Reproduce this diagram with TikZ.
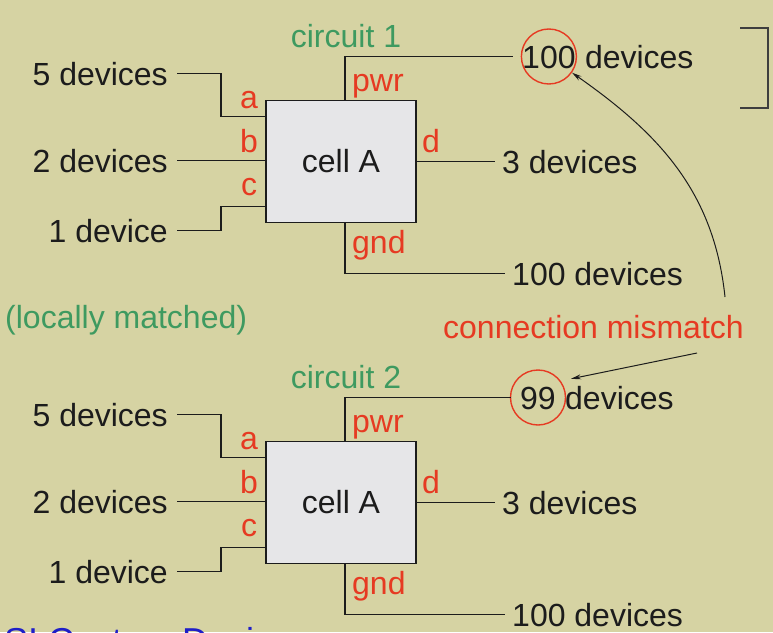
\documentclass[tikz,border=0pt]{standalone}
\usepackage{fontspec}
\setmainfont{Liberation Sans}
\usepackage{xcolor}
\usepackage{tikz}
\usetikzlibrary{arrows.meta,positioning}
\definecolor{SlideKhaki}{HTML}{D6D3A3}
\definecolor{SlideInk}{HTML}{1C1C1C}
\definecolor{SlideRed}{HTML}{E63A22}
\definecolor{SlideGreen}{HTML}{3E9A60}
\definecolor{SlideBlue}{HTML}{1E1EC8}
\definecolor{CellGrey}{HTML}{E6E6E8}

\begin{document}
\begin{tikzpicture}[x=1pt,y=-1pt,
  txt/.style={font=\fontsize{32}{38}\selectfont,text=SlideInk,inner sep=0pt},
  count/.style={txt,text height=23pt,text depth=0pt},
  pin/.style={txt,text=SlideRed,anchor=base west},
  note/.style={txt,anchor=base west},
  cell/.style={draw=SlideInk,line width=1.6pt,fill=CellGrey,minimum width=150pt,minimum height=122pt,txt},
  wire/.style={draw=SlideInk,line width=1.2pt},
  ring/.style={circle,draw=SlideRed,line width=1.4pt,minimum size=55pt,inner sep=0pt},
  pointer/.style={-{Stealth[length=10pt,width=5pt]},draw=SlideInk,line width=1pt}
]
\fill[SlideKhaki] (0,0) rectangle (773,632);
\useasboundingbox (0,0) rectangle (773,632);

% circuit 1
\node[cell] (cellA1) at (341,161.5) {cell A};
\node[count,anchor=east] (five1) at (168,73.5) {5 devices};
\node[count,anchor=east] (two1) at (168,160.5) {2 devices};
\node[count,anchor=east] (one1) at (168,230.5) {1 device};
\node[count,anchor=west] (three1) at (502,161.5) {3 devices};
\node[count,anchor=west] (gndcnt1) at (512,273.5) {100 devices};
\node[count,anchor=west] (pwrnum1) at (522,56.5) {100};
\node[count,right=9pt of pwrnum1] (pwrdev1) {devices};
\node[ring] (ring1) at (pwrnum1) {};
\draw[wire,shorten <=9pt] (five1.east) -- ++(53,0) |- ([yshift=-17pt]cellA1.north west);
\draw[wire,shorten <=9pt] (two1.east) -- (two1.east -| cellA1.west);
\draw[wire,shorten <=9pt] (one1.east) -- ++(53,0) |- ([yshift=17pt]cellA1.south west);
\draw[wire,shorten >=7pt] (cellA1.east) -- (cellA1.east -| three1.west);
\draw[wire,shorten >=9pt] ([xshift=4pt]cellA1.north) |- (pwrnum1.west);
\draw[wire,shorten >=7pt] ([xshift=4pt]cellA1.south) |- (gndcnt1.west);
\node[pin] (a1) at (240,108) {a};
\node[pin] (b1) at (240,152) {b};
\node[pin] (c1) at (241,195) {c};
\node[pin] (d1) at (422,152) {d};
\node[pin] (pwr1) at (352,91) {pwr};
\node[pin] (gnd1) at (352,253) {gnd};
\node[txt,text=SlideGreen,anchor=base] (title1) at (346,47) {circuit 1};
\draw[draw=SlideInk!85,line width=1.3pt] (740,28) -| (768,108) -- (740,108);

% circuit 2
\begin{scope}[shift={(0,341)}]
\node[cell] (cellA2) at (341,161.5) {cell A};
\node[count,anchor=east] (five2) at (168,73.5) {5 devices};
\node[count,anchor=east] (two2) at (168,160.5) {2 devices};
\node[count,anchor=east] (one2) at (168,230.5) {1 device};
\node[count,anchor=west] (three2) at (502,161.5) {3 devices};
\node[count,anchor=west] (gndcnt2) at (512,273.5) {100 devices};
\node[count,anchor=west] (pwrnum2) at (520,56.5) {99};
\node[count,right=9pt of pwrnum2] (pwrdev2) {devices};
\node[ring] (ring2) at (pwrnum2) {};
\draw[wire,shorten <=9pt] (five2.east) -- ++(53,0) |- ([yshift=-17pt]cellA2.north west);
\draw[wire,shorten <=9pt] (two2.east) -- (two2.east -| cellA2.west);
\draw[wire,shorten <=9pt] (one2.east) -- ++(53,0) |- ([yshift=17pt]cellA2.south west);
\draw[wire,shorten >=7pt] (cellA2.east) -- (cellA2.east -| three2.west);
\draw[wire,shorten >=9pt] ([xshift=4pt]cellA2.north) |- (pwrnum2.west);
\draw[wire,shorten >=7pt] ([xshift=4pt]cellA2.south) |- (gndcnt2.west);
\node[pin] (a2) at (240,108) {a};
\node[pin] (b2) at (240,152) {b};
\node[pin] (c2) at (241,195) {c};
\node[pin] (d2) at (422,152) {d};
\node[pin] (pwr2) at (352,91) {pwr};
\node[pin] (gnd2) at (352,253) {gnd};
\node[txt,text=SlideGreen,anchor=base] (title2) at (346,47) {circuit 2};
\end{scope}

% notes in between
\node[note,text=SlideGreen] (local) at (5,328) {(locally matched)};
\node[note,text=SlideRed] (mismatch) at (443,338) {connection mismatch};
\coordinate (arcfoot) at (725,297);
\coordinate (mmfoot) at (697,353);
\draw[pointer] (arcfoot) to[out=96,in=-35] (ring1);
\draw[pointer] (mmfoot) -- ([xshift=6pt,yshift=7pt]pwrdev2.north west);

\node[note,text=SlideBlue,font=\fontsize{36}{40}\selectfont] (footer) at (4,653) {SI Custom Design};
\end{tikzpicture}
\end{document}
